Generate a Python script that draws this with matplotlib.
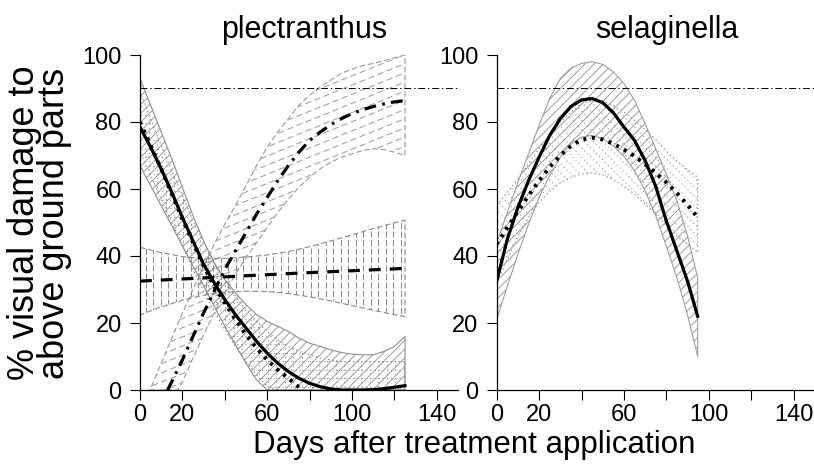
import numpy as np
import matplotlib
matplotlib.use("Agg")
import matplotlib.pyplot as plt
from matplotlib.collections import LineCollection
from matplotlib.transforms import IdentityTransform

plt.rcParams['font.family'] = ['Liberation Sans', 'DejaVu Sans']
plt.rcParams['lines.scale_dashes'] = False

# ---------------- data: plectranthus ----------------
p_solid_x = [0, 5, 10, 15, 20, 25, 30, 35, 40, 45, 50, 55, 60, 65, 70, 75, 80, 85, 90, 95, 100, 105, 110, 115, 120, 125]
p_solid_y = [78.5, 72.5, 66, 59, 51.5, 44.5, 37.5, 32, 27, 22.5, 18.5, 14.5, 11, 8, 5.5, 3.5, 2, 1, 0.3, 0, 0, 0, 0.1, 0.4, 0.8, 1.3]
p_solid_hi_x = [0, 5, 10, 15, 20, 25, 30, 35, 40, 45, 50, 55, 60, 65, 70, 75, 80, 85, 90, 95, 100, 105, 110, 115, 120, 125]
p_solid_hi = [93, 85, 77, 69, 60.5, 52, 44.5, 38, 33, 29, 25.5, 22.5, 20.5, 19, 17.5, 15.5, 14, 13, 12, 11.2, 10.7, 10.5, 10.5, 11.5, 13, 16]
p_solid_lo = [67, 61, 55, 49, 43, 37, 31, 25, 19, 13.5, 8, 3, 0, 0, 0, 0, 0, 0, 0, 0, 0, 0, 0, 0, 0, 0]

p_dot_x = [0, 5, 10, 15, 20, 25, 30, 35, 40, 45, 50, 55, 60, 65, 70, 75, 77]
p_dot_y = [80, 73, 66, 58.5, 51, 44, 37, 31, 26, 21, 16.5, 12.5, 9, 6, 3.5, 0.8, 0]
p_dot_band_x = [0, 5, 10, 15, 20, 25, 30, 35, 40, 45, 50, 55, 60, 65, 70, 75, 80, 85, 90, 95, 100, 105, 110, 115, 120, 125]
p_dot_hi = [89, 81, 73, 65.5, 58, 50.5, 44, 38, 33, 28, 24, 20.5, 17.5, 15, 13, 11.5, 10.5, 9.5, 9, 8.5, 8.5, 8.5, 8.5, 8.5, 8.5, 8.5]
p_dot_lo = [71, 64, 57, 50, 43, 36, 29.5, 23.5, 18, 13, 8.5, 4.5, 1, 0, 0, 0, 0, 0, 0, 0, 0, 0, 0, 0, 0, 0]

p_dash_x = [0, 25, 50, 75, 100, 125]
p_dash_y = [32.5, 33.3, 34.1, 34.9, 35.6, 36.3]
p_dash_band_x = [0, 10, 20, 30, 40, 50, 60, 70, 80, 90, 100, 110, 120, 125]
p_dash_hi = [42.6, 41, 39.8, 39.2, 39.3, 39.7, 40.3, 41.3, 42.8, 44.5, 46.3, 48.2, 49.9, 50.7]
p_dash_lo = [22.4, 24.8, 26.8, 28.3, 29.2, 29.5, 29.4, 28.8, 27.8, 26.6, 25.2, 23.8, 22.5, 21.9]

p_dd_x = [13, 15, 20, 25, 30, 35, 40, 45, 50, 55, 60, 65, 70, 75, 80, 85, 90, 95, 100, 105, 110, 115, 120, 125]
p_dd_y = [0, 2.5, 9, 16, 23, 29.5, 36, 41.5, 47, 52.5, 57.5, 62.5, 67, 71, 74.5, 77, 79.2, 81, 82.5, 83.7, 84.6, 85.4, 86, 86.4]
p_dd_band_x = [4.7, 10, 15, 18, 20, 25, 30, 35, 40, 45, 50, 55, 60, 65, 70, 75, 80, 85, 90, 95, 100, 105, 110, 115, 120, 125]
p_dd_hi = [0, 8, 15.5, 20, 23, 30, 37, 43.5, 49.5, 55, 61, 67, 72.5, 77, 81, 85, 88, 90.5, 92.5, 94.5, 95.8, 96.8, 97.5, 98.3, 99.2, 100]
p_dd_lo = [0, 0, 0, 0, 2.5, 9.5, 16.5, 23, 29, 34.5, 39.5, 44, 48.5, 53, 57, 60.5, 63.5, 66, 68, 69.5, 70.5, 71.5, 72, 71.8, 71, 70]

# ---------------- data: selaginella ----------------
s_x = [0, 5, 10, 15, 20, 25, 30, 35, 40, 45, 50, 55, 60, 65, 70, 75, 80, 85, 90, 94.8]
s_solid_y = [32.5, 45, 54.5, 62.5, 69.5, 76, 81, 84.6, 86.6, 87, 85.8, 82.8, 78.5, 74.5, 68.5, 60.8, 50.5, 41.5, 32.5, 22]
s_solid_hi = [44, 53, 62, 70.5, 79, 87, 93, 96, 97.5, 98, 97.2, 95, 91.5, 86.5, 79.5, 72, 64.5, 56.5, 46, 33.5]
s_solid_lo = [21, 31, 40.5, 49.5, 57.5, 64, 69.5, 73.5, 75.5, 76, 75, 72.8, 69.8, 65.5, 59.5, 52, 43, 33.5, 22.5, 10]
s_dot_y = [43.5, 48.5, 53.3, 58, 62.5, 66.5, 70, 72.8, 74.7, 75.3, 74.8, 73.5, 71.8, 69.8, 67.4, 64.8, 62, 58.8, 55.3, 51.5]
s_dot_hi = [55, 59, 63, 67.5, 72, 76, 80, 83, 85.5, 86.5, 86.3, 85, 83, 80.5, 77.8, 74.8, 71.3, 68.3, 65.8, 63.5]
s_dot_lo = [32, 39, 46, 51.5, 56, 59.3, 61.8, 63.5, 64.5, 64.8, 64.2, 62.8, 60.8, 58.4, 55.5, 52.5, 49, 46, 43.5, 41]

threshold = 90
x_ticks = [0, 20, 40, 60, 80, 100, 120, 140]
x_ticklabels = ['0', '20', '', '60', '', '100', '', '140']
y_ticks = [0, 20, 40, 60, 80, 100]
titles = ['plectranthus', 'selaginella']

# ---------------- figure ----------------
W, H = 814, 465
fig = plt.figure(figsize=(W / 100, H / 100), dpi=100)
axL = fig.add_axes([140 / W, 75 / H, 318 / W, 335 / H])
axR = fig.add_axes([496.7 / W, 75 / H, 318 / W, 335 / H])


def hatch_band(ax, x, lo, hi, angles, spacing, color, lw, ls, edge_ls, edge_color=None):
    ec = edge_color if edge_color is not None else color
    poly = ax.fill_between(x, lo, hi, facecolor='none', edgecolor=ec,
                           linewidth=0.8, linestyle=edge_ls, zorder=1)
    bb = ax.bbox
    cx, cy = bb.x0 + bb.width / 2, bb.y0 + bb.height / 2
    R = np.hypot(bb.width, bb.height)
    for a in angles:
        th = np.deg2rad(a)
        d = np.array([np.cos(th), np.sin(th)])
        n = np.array([-np.sin(th), np.cos(th)])
        segs = []
        for t in np.arange(-R, R + spacing, spacing):
            c = np.array([cx, cy]) + t * n
            segs.append([tuple(c - R * d), tuple(c + R * d)])
        lc = LineCollection(segs, colors=color, linewidths=lw, linestyles=ls,
                            transform=IdentityTransform(), zorder=1)
        ax.add_collection(lc, autolim=False)
        lc.set_clip_path(poly.get_paths()[0], poly.get_transform())


dash_ls = (0, (8.5, 6.5))
dot_ls = (0, (2.2, 4.0))
dd_ls = (0, (8.5, 4.5, 2.0, 4.5))
hatch_dash = (0, (4.5, 1.6))
hatch_dot = (0, (0.8, 2.2))
hatch_dd = (0, (4.5, 2.5))

# plectranthus bands
hatch_band(axL, p_dd_band_x, p_dd_lo, p_dd_hi, [22], 8.5, '#9a9a9a', 0.7, hatch_dd, (0, (4, 2)))
hatch_band(axL, p_dash_band_x, p_dash_lo, p_dash_hi, [90], 7.5, '#8a8a8a', 0.7, hatch_dash, (0, (4, 2)))
hatch_band(axL, p_solid_hi_x, p_solid_lo, p_solid_hi, [45], 6.2, '#8f8f8f', 0.6, 'solid', 'solid')
hatch_band(axL, p_dot_band_x, p_dot_lo, p_dot_hi, [0, 90], 8.5, '#8a8a8a', 0.7, hatch_dot, (0, (1, 2)))

axL.plot(p_dd_x, p_dd_y, color='black', lw=2.3, ls=dd_ls, zorder=3)
axL.plot(p_dash_x, p_dash_y, color='black', lw=2.3, ls=dash_ls, zorder=3)
axL.plot(p_dot_x, p_dot_y, color='black', lw=2.8, ls=dot_ls, zorder=3)
axL.plot(p_solid_x, p_solid_y, color='black', lw=2.3, ls='solid', zorder=3)

# selaginella bands
hatch_band(axR, s_x, s_solid_lo, s_solid_hi, [45], 6.5, '#8f8f8f', 0.6, 'solid', 'solid', '#a0a0a0')
hatch_band(axR, s_x, s_dot_lo, s_dot_hi, [135], 6.5, '#8a8a8a', 0.7, hatch_dot, (0, (1, 2)))
axR.plot(s_x, s_dot_y, color='black', lw=2.8, ls=dot_ls, zorder=3)
axR.plot(s_x, s_solid_y, color='black', lw=2.3, ls='solid', zorder=3)

for ax in (axL, axR):
    ax.axhline(threshold, color='black', lw=0.7, ls=(0, (5, 2, 1, 2)), zorder=2)
    ax.set_xlim(0, 150)
    ax.set_ylim(0, 100)
    ax.spines['top'].set_visible(False)
    ax.spines['right'].set_visible(False)
    ax.spines['left'].set_linewidth(0.9)
    ax.spines['bottom'].set_linewidth(0.9)
    ax.set_xticks(x_ticks)
    ax.set_xticklabels(x_ticklabels)
    ax.set_yticks(y_ticks)
    ax.set_yticklabels([str(v) for v in y_ticks])
    ax.tick_params(direction='out', length=7.2, width=0.8, labelsize=17)
    ax.tick_params(axis='y', pad=6)
    ax.tick_params(axis='x', pad=3)
    ax.patch.set_visible(False)

fig.text(304.5 / W, 1 - 37.6 / H, titles[0], ha='center', va='baseline', fontsize=22)
fig.text(666.5 / W, 1 - 37.6 / H, titles[1], ha='center', va='baseline', fontsize=22)
fig.text(474 / W, 1 - 453 / H, 'Days after treatment application', ha='center', va='baseline', fontsize=22.5)
fig.text(39.5 / W, 1 - 223 / H, '% visual damage to\nabove ground parts', ha='center', va='center',
         rotation=90, fontsize=26, linespacing=0.8, multialignment='center')

fig.savefig('out.png', dpi=100)
